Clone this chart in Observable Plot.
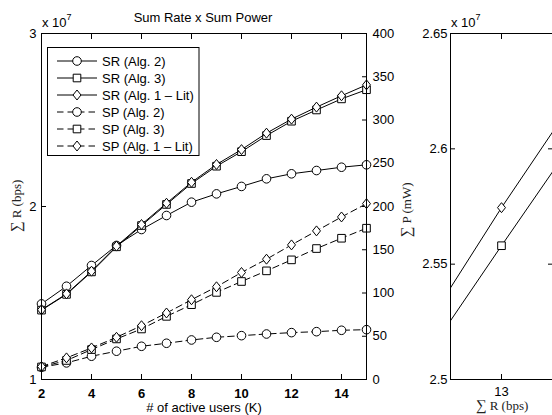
<!DOCTYPE html>
<html><head><meta charset="utf-8">
<script src="https://cdn.jsdelivr.net/npm/d3@7"></script>
<script src="https://cdn.jsdelivr.net/npm/@observablehq/plot@0.6"></script>
<style>
body{margin:0;background:#fff}
#wrap{position:relative;width:552px;height:415px;overflow:hidden;font-family:"Liberation Sans",Arial,sans-serif}
#wrap svg{position:absolute;left:0;top:0;overflow:visible}
</style></head><body><div id="wrap"></div>
<script>
// ---- data (sum rate in units of 1e7 bps, sum power in mW) ----
const K = [2,3,4,5,6,7,8,9,10,11,12,13,14,15];
const srAlg2 = [1.437,1.539,1.659,1.775,1.867,1.948,2.025,2.073,2.116,2.160,2.189,2.208,2.227,2.241];
const srAlg3 = [1.401,1.492,1.622,1.767,1.890,2.012,2.133,2.233,2.317,2.410,2.493,2.558,2.622,2.675];
const srAlg1 = [1.403,1.495,1.626,1.771,1.896,2.019,2.140,2.243,2.329,2.424,2.505,2.5745,2.640,2.703];
const spAlg2 = [14.2,19.2,26.9,32.7,38.4,41.9,45.7,48.8,50.7,52.6,54.2,55.3,56.9,57.6];
const spAlg3 = [14.5,22.0,34.6,46.9,58.4,73.0,86.5,100.7,113.3,125.6,138.3,151.4,163.3,174.9];
const spAlg1 = [15.0,25.0,36.5,48.8,62.2,76.9,92.2,107.2,123.7,139.1,155.6,171.8,187.9,203.3];
const legendNames = ["SR (Alg. 2)","SR (Alg. 3)","SR (Alg. 1 \u2013 Lit)","SP (Alg. 2)","SP (Alg. 3)","SP (Alg. 1 \u2013 Lit)"];
const xTicks = [2,4,6,8,10,12,14];
const srTicks = [1,2,3];
const spTicks = [0,50,100,150,200,250,300,350,400];
const insetXTicks = [13];
const insetYTicks = [2.5,2.55,2.6,2.65];
const titleText = "Sum Rate x Sum Power";
const xLabel = "# of active users (K)";

// MATLAB-like diamond
const diamond = {draw(ctx, size){const r=Math.sqrt(size/Math.PI);const w=r*0.93,h=r*1.16;
  ctx.moveTo(0,-h);ctx.lineTo(w,0);ctx.lineTo(0,h);ctx.lineTo(-w,0);ctx.closePath();}};
const symbols = ["circle","square",diamond];
const srSeries = [srAlg2,srAlg3,srAlg1];
const spSeries = [spAlg2,spAlg3,spAlg1];

const W=552,H=415;
const style = {background:"transparent",fontFamily:"'Liberation Sans',Arial,sans-serif",fontSize:"13px",color:"#000",overflow:"visible"};
const mainM = {width:W,height:H,marginLeft:41,marginRight:186,marginTop:33,marginBottom:36,style};
const fmt = d => String(d);
const R = 4.3;

function seriesMarks(arr, dashed, clip){
  return arr.flatMap((vals,j)=>[
    Plot.line(K,{x:d=>d,y:(d,i)=>vals[i],stroke:"#000",strokeWidth:1,strokeDasharray:dashed?"6.5,4":null,clip}),
    Plot.dot(K,{x:d=>d,y:(d,i)=>vals[i],symbol:()=>symbols[j],r:R,fill:"#fff",stroke:"#000",strokeWidth:1,clip})
  ]);
}

const wrap = document.getElementById("wrap");

const plotB = Plot.plot({...mainM,
  x:{domain:[2,15],axis:null}, y:{domain:[0,400]},
  marks:[
    Plot.axisY(spTicks,{anchor:"right",tickSize:0,tickPadding:6,label:null,tickFormat:fmt}),
    Plot.axisY(spTicks,{anchor:"right",tickSize:-5,fill:"none",label:null}),
    ...seriesMarks(spSeries,true,false)
  ]});

const plotA = Plot.plot({...mainM,
  x:{domain:[2,15]}, y:{domain:[1,3]},
  marks:[
    Plot.axisX(xTicks,{anchor:"bottom",tickSize:0,tickPadding:9,fontWeight:"bold",label:null,tickFormat:fmt}),
    Plot.axisX(xTicks,{anchor:"bottom",tickSize:-5,fill:"none",label:null}),
    Plot.axisX(xTicks,{anchor:"top",tickSize:-5,fill:"none",label:null}),
    Plot.axisY(srTicks,{anchor:"left",tickSize:0,tickPadding:5,label:null,tickFormat:fmt}),
    Plot.axisY(srTicks,{anchor:"left",tickSize:-5,fill:"none",label:null}),
    ...seriesMarks(srSeries,false,false),
    Plot.frame({stroke:"#000"})
  ]});
wrap.appendChild(plotB);
wrap.appendChild(plotA);

const plotC = Plot.plot({width:W,height:H,marginLeft:450,marginRight:0,marginTop:33,marginBottom:36,style,
  x:{domain:[12.5,13.5]}, y:{domain:[2.5,2.65]},
  marks:[
    Plot.axisX(insetXTicks,{anchor:"bottom",tickSize:0,tickPadding:7,label:null,tickFormat:fmt}),
    Plot.axisX(insetXTicks,{anchor:"bottom",tickSize:-5,fill:"none",label:null}),
    Plot.axisX(insetXTicks,{anchor:"top",tickSize:-5,fill:"none",label:null}),
    Plot.axisY(insetYTicks,{anchor:"left",tickSize:0,tickPadding:3,label:null,tickFormat:fmt}),
    Plot.axisY(insetYTicks,{anchor:"left",tickSize:-5,fill:"none",label:null}),
    Plot.axisY(insetYTicks,{anchor:"right",tickSize:-5,fill:"none",label:null}),
    ...seriesMarks(srSeries,false,true),
    Plot.frame({stroke:"#000"})
  ]});
wrap.appendChild(plotC);

// ---- decorations: titles, exponent labels, legend ----
const svg = d3.select(wrap).append("svg").attr("width",W).attr("height",H)
  .style("font-family","'Liberation Sans',Arial,sans-serif").style("font-size","13px");
svg.append("text").attr("x",203).attr("y",22).attr("text-anchor","middle").text(titleText);
svg.append("text").attr("x",204).attr("y",411.5).attr("text-anchor","middle").text(xLabel);
function expo(x){
  const t = svg.append("text").attr("x",x).attr("y",27);
  t.append("tspan").text("x 10");
  t.append("tspan").attr("dy",-7).style("font-size","9px").text("7");
}
expo(42); expo(451);
function sumLabel(x,y,rot,letter){
  const t = svg.append("text").attr("transform",`translate(${x},${y}) rotate(${rot})`)
    .attr("text-anchor","middle")
    .style("font-family","'Liberation Serif','DejaVu Serif',serif").style("font-size","13px").attr("fill","#222");
  t.append("tspan").style("font-size","15px").text("\u2211");
  t.append("tspan").text(" "+letter);
}
// y given as baseline
sumLabel(21,206,-90,"R (bps)");
sumLabel(411,210,-90,"P (mW)");
sumLabel(502,409.5,0,"R (bps)");

// legend
const lg = svg.append("g");
lg.append("rect").attr("x",47.5).attr("y",47.5).attr("width",151.5).attr("height",108)
  .attr("fill","#fff").attr("stroke","#000");
legendNames.forEach((name,i)=>{
  const y = 61 + i*17;
  const dashed = i>=3;
  lg.append("line").attr("x1",57).attr("x2",97).attr("y1",y).attr("y2",y)
    .attr("stroke","#000").attr("stroke-dasharray",dashed?"6.5,4":null);
  const sym = symbols[i%3];
  const d3sym = sym==="circle"?d3.symbolCircle:sym==="square"?d3.symbolSquare:sym;
  lg.append("path").attr("transform",`translate(77,${y})`)
    .attr("d",d3.symbol(d3sym,Math.PI*R*R)()).attr("fill","#fff").attr("stroke","#000");
  lg.append("text").attr("x",102).attr("y",y).attr("dominant-baseline","central").text(name);
});
</script></body></html>
